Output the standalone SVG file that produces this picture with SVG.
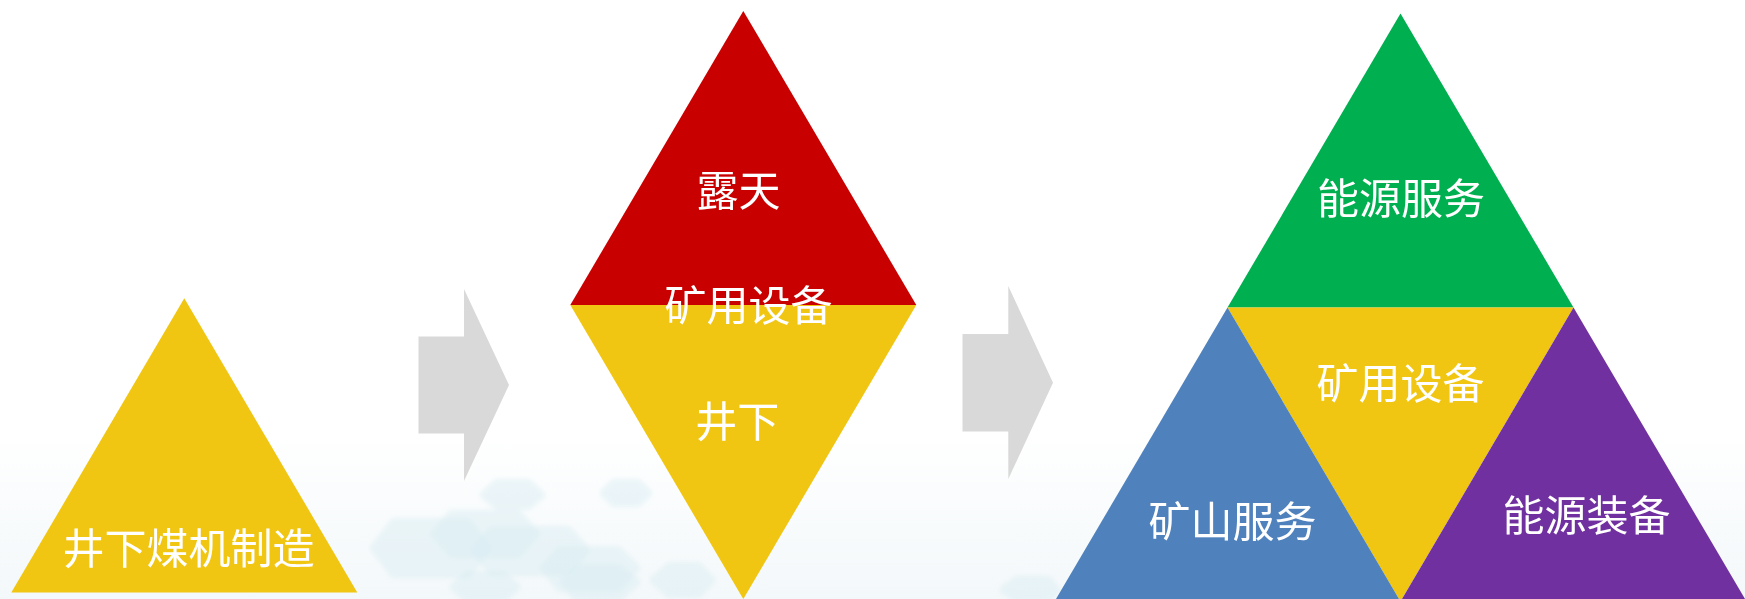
<svg xmlns="http://www.w3.org/2000/svg" width="1745" height="599" viewBox="0 0 1745 599">
<defs>
<linearGradient id="bg" x1="0" y1="0" x2="0" y2="1">
<stop offset="0" stop-color="#FFFFFF"/>
<stop offset="0.72" stop-color="#FFFFFF"/>
<stop offset="1" stop-color="#F3F8FA"/>
</linearGradient>
<filter id="soft" x="-10%" y="-10%" width="120%" height="120%">
<feGaussianBlur stdDeviation="2"/>
</filter>
<style>
.lbl{font-family:"Noto Sans CJK SC","Noto Sans CJK JP",sans-serif;font-size:42px;fill:#FFFFFF;text-anchor:middle}
.arrow{fill:#D9D9D9}
.yellow{fill:#F0C612}
.red{fill:#C90000}
.green{fill:#00AF50}
.blue{fill:#4F81BD}
.purple{fill:#7030A0}
.wm{fill:#D8ECF1;stroke:#D8ECF1;stroke-width:8;stroke-linejoin:round;opacity:0.45}
</style>
</defs>
<rect x="0" y="0" width="1745" height="599" fill="url(#bg)"/>
<g id="watermark" filter="url(#soft)">
<path class="wm" d="M374,548 L394,522 L468,522 L488,548 L468,574 L394,574 Z"/>
<path class="wm" d="M434,534 L452,514 L518,514 L536,534 L518,554 L452,554 Z"/>
<path class="wm" d="M474,550 L492,530 L568,530 L586,550 L568,572 L492,572 Z"/>
<path class="wm" d="M484,495 L497,483 L528,483 L541,495 L528,506 L497,506 Z"/>
<path class="wm" d="M604,493 L614,483 L638,483 L648,493 L638,503 L614,503 Z"/>
<path class="wm" d="M454,587 L467,575 L503,575 L516,587 L503,598 L467,598 Z"/>
<path class="wm" d="M544,568 L560,550 L618,550 L636,568 L618,588 L560,588 Z"/>
<path class="wm" d="M564,582 L577,568 L618,568 L636,582 L618,598 L577,598 Z"/>
<path class="wm" d="M654,580 L670,566 L698,566 L711,580 L698,594 L670,594 Z"/>
<path class="wm" d="M1004,590 L1017,580 L1048,580 L1056,590 L1048,598 L1017,598 Z"/>
</g>
<g id="connectors">
<path id="arrow1" class="arrow" d="M418.5,336.5 L464,336.5 L464,289 L509,385 L464,481 L464,433.5 L418.5,433.5 Z"/>
<path id="arrow2" class="arrow" d="M962.5,334 L1008.3,334 L1008.3,286 L1053,382.8 L1008.3,479 L1008.3,431.5 L962.5,431.5 Z"/>
</g>
<g id="node-underground">
<polygon class="yellow" points="184.3,298.3 357.3,592.5 11.3,592.5"/>
<text class="lbl" x="188.6" y="564">井下煤机制造</text>
</g>
<g id="node-diamond">
<polygon class="red" points="743.3,11 916.3,305 570.3,305"/>
<polygon class="yellow" points="570.3,305 916.3,305 743.3,599"/>
<text class="lbl" x="738.4" y="206">露天</text>
<text class="lbl" x="748.5" y="321">矿用设备</text>
<text class="lbl" x="737.3" y="437">井下</text>
</g>
<g id="node-pyramid">
<polygon id="energy-service" class="green" points="1400.5,13.5 1573.5,307.5 1227.5,307.5"/>
<polygon id="mining-equipment" class="yellow" points="1227.5,307.5 1573.5,307.5 1400.5,601.5"/>
<polygon id="mine-service" class="blue" points="1227.5,307.5 1400.5,601.5 1054.5,601.5"/>
<polygon id="energy-equipment" class="purple" points="1573.5,307.5 1746.5,601.5 1400.5,601.5"/>
<text class="lbl" x="1401" y="214">能源服务</text>
<text class="lbl" x="1400.6" y="399">矿用设备</text>
<text class="lbl" x="1232.5" y="537">矿山服务</text>
<text class="lbl" x="1586.5" y="531">能源装备</text>
</g>
</svg>
